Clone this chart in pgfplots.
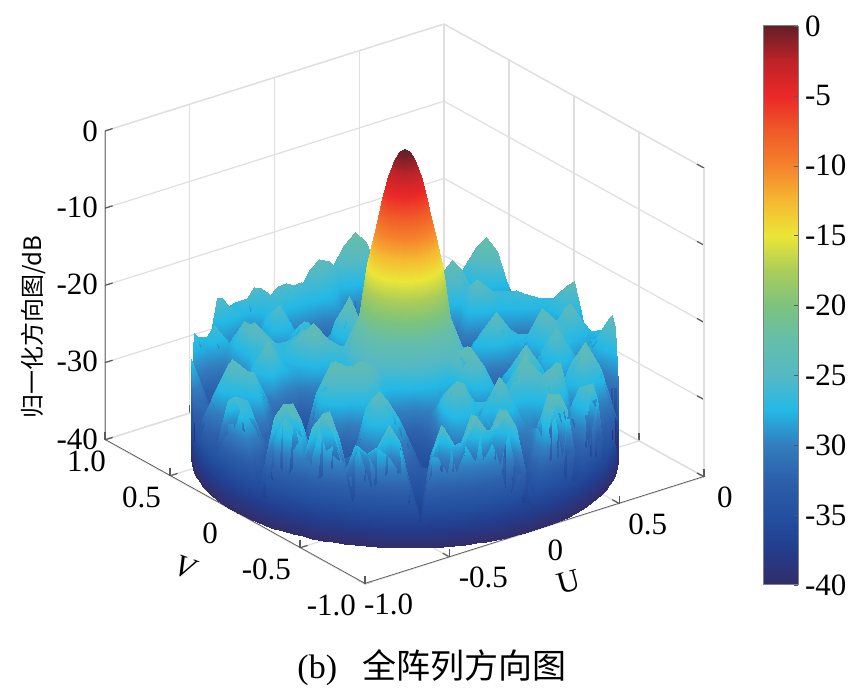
\documentclass[border=0pt]{standalone}
\usepackage{pgfplots}
\pgfplotsset{compat=1.18}
\usepackage{fontspec}
\setmainfont{Liberation Serif}
\newfontfamily\cjk{Noto Sans CJK SC}

\pgfplotsset{
  colormap={pattern}{
    rgb255=(50,45,105) rgb255=(35,60,140) rgb255=(35,80,160) rgb255=(45,95,170)
    rgb255=(50,125,190) rgb255=(35,185,230) rgb255=(85,185,195) rgb255=(100,190,170)
    rgb255=(125,195,125) rgb255=(170,205,90) rgb255=(235,230,55) rgb255=(245,185,50)
    rgb255=(245,130,45) rgb255=(240,90,40) rgb255=(235,40,40) rgb255=(190,35,40)
    rgb255=(100,30,40)
  },
  tick label style={font=\fontsize{15.5}{15.5}\selectfont},
}

\begin{document}
\begin{tikzpicture}
\path[use as bounding box] (0,0) rectangle (431pt,349.5pt);

\begin{axis}[
  at={(202.25pt,274.75pt)}, anchor=origin,
  x={(84.75pt,26.75pt)}, y={(-65pt,36pt)}, z={(0pt,3.86pt)},
  xmin=-1, xmax=1, ymin=-1, ymax=1, zmin=-40, zmax=0,
  point meta min=-40, point meta max=0,
  declare function={rr(\k)=min(1,max(\k*0.025,(\k-5)/14));},
  xtick={-1,-0.5,0,0.5,1}, xticklabels={\hspace{-5pt}-1.0,-0.5,\hspace{2pt}0,0.5,\hspace{2pt}0},
  ytick={-1,-0.5,0,0.5,1}, yticklabels={-1.0,-0.5,0\hspace{4pt}\null,0.5,1.0\hspace{-5pt}\null},
  ztick={-40,-30,-20,-10,0}, zticklabels={-40,-30,-20,-10,0},
  tick pos=left,
  grid=major, major grid style={gray!25, line width=0.6pt},
  axis line style={gray!25, line width=0.6pt},
  tick style={gray!70!black, line width=0.6pt},
  tick align=inside, major tick length=4pt,
  xticklabel style={anchor=north west, xshift=1pt, yshift=-1.5pt},
  yticklabel style={anchor=north east, xshift=-1pt, yshift=-2pt},
  zticklabel style={yshift=-1pt},
]
\draw[gray!70!black, line width=0.7pt] (axis cs:-1,1,0)--(axis cs:-1,1,-40)--(axis cs:-1,-1,-40)--(axis cs:1,-1,-40);
\addplot3[surf, shader=interp, z buffer=sort, mesh/ordering=x varies, mesh/cols=21, mesh/rows=121]
  table[row sep=\\, header=false, z index=0,
    x expr={rr(mod(\coordindex,21))*cos(3*floor(\coordindex/21))},
    y expr={rr(mod(\coordindex,21))*sin(3*floor(\coordindex/21))}] {
0\\-.4\\-1.5\\-3.5\\-6\\-9\\-12\\-15\\-22\\-27\\-30\\-27.5\\-26.5\\-29\\-33\\-34\\-36\\-33\\-26\\-24\\-40\\
0\\-.4\\-1.5\\-3.5\\-6\\-9\\-12\\-15\\-22\\-27\\-30\\-28\\-28\\-31\\-34\\-34\\-34\\-30\\-26\\-25\\-40\\
0\\-.4\\-1.5\\-3.5\\-6\\-9\\-12\\-15\\-22\\-27\\-31\\-29\\-30\\-33\\-36\\-35\\-33\\-29\\-27\\-27\\-40\\
0\\-.4\\-1.5\\-3.5\\-6\\-9\\-12\\-15\\-22\\-27\\-32\\-31\\-32\\-34\\-35\\-33\\-30\\-27\\-27\\-29\\-40\\
0\\-.4\\-1.5\\-3.5\\-6\\-9\\-12\\-15\\-22\\-28\\-33\\-34\\-35\\-36\\-34\\-31\\-28\\-26\\-28\\-31\\-40\\
0\\-.4\\-1.5\\-3.5\\-6\\-9\\-12\\-15\\-22\\-28\\-33\\-35\\-36\\-35\\-32\\-29\\-27\\-26\\-28\\-32\\-40\\
0\\-.4\\-1.5\\-3.5\\-6\\-9\\-12\\-15\\-22\\-28\\-34\\-36\\-37\\-35\\-30\\-27\\-27\\-26.5\\-29\\-33\\-40\\
0\\-.4\\-1.5\\-3.5\\-6\\-9\\-12\\-15\\-22\\-28\\-34\\-36\\-36\\-33\\-28\\-25\\-26\\-27\\-30\\-30\\-40\\
0\\-.4\\-1.5\\-3.5\\-6\\-9\\-12\\-15\\-22\\-27\\-33\\-35\\-35\\-31\\-27\\-24\\-26\\-29\\-29\\-27\\-40\\
0\\-.4\\-1.5\\-3.5\\-6\\-9\\-12\\-15\\-22\\-27\\-33\\-35\\-35\\-32\\-28\\-25\\-25.5\\-29\\-28\\-23.5\\-40\\
0\\-.4\\-1.5\\-3.5\\-6\\-9\\-12\\-15\\-22\\-27\\-32\\-34\\-35\\-33\\-30\\-27\\-26\\-30\\-27\\-22\\-40\\
0\\-.4\\-1.5\\-3.5\\-6\\-9\\-12\\-15\\-22\\-27\\-32\\-33\\-35\\-33\\-30\\-26\\-24\\-27\\-27\\-23.5\\-40\\
0\\-.4\\-1.5\\-3.5\\-6\\-9\\-12\\-15\\-22\\-27\\-31\\-33\\-35\\-34\\-31\\-26\\-23\\-26\\-28\\-26\\-40\\
0\\-.4\\-1.5\\-3.5\\-6\\-9\\-12\\-15\\-22\\-27\\-31\\-32\\-35\\-35\\-32\\-27\\-24.5\\-27\\-30\\-29\\-40\\
0\\-.4\\-1.5\\-3.5\\-6\\-9\\-12\\-15\\-22\\-27\\-31\\-32\\-35\\-36\\-34\\-30\\-27\\-30\\-33\\-33\\-40\\
0\\-.4\\-1.5\\-3.5\\-6\\-9\\-12\\-15\\-22\\-27\\-31\\-31\\-34\\-37\\-36\\-33\\-30\\-32\\-35\\-36\\-40\\
0\\-.4\\-1.5\\-3.5\\-6\\-9\\-12\\-15\\-22\\-27\\-31\\-30\\-33\\-37\\-37\\-35\\-32\\-34\\-36\\-37\\-40\\
0\\-.4\\-1.5\\-3.5\\-6\\-9\\-12\\-15\\-22\\-27\\-30\\-29\\-32\\-36\\-38\\-36\\-34\\-35\\-34\\-35\\-40\\
0\\-.4\\-1.5\\-3.5\\-6\\-9\\-12\\-15\\-22\\-27\\-30\\-28\\-31\\-35\\-38\\-37\\-36\\-35\\-31\\-33\\-40\\
0\\-.4\\-1.5\\-3.5\\-6\\-9\\-12\\-15\\-22\\-26.5\\-29.5\\-27.5\\-30.5\\-34.5\\-37.5\\-37.5\\-36\\-34\\-29\\-29\\-40\\
0\\-.4\\-1.5\\-3.5\\-6\\-9\\-12\\-15\\-22\\-26\\-29\\-27\\-30\\-34\\-37\\-38\\-36\\-33\\-28\\-27\\-40\\
0\\-.4\\-1.5\\-3.5\\-6\\-9\\-12\\-15\\-22\\-26\\-29\\-27.5\\-30.5\\-34\\-36.5\\-37\\-35\\-31\\-26\\-23.5\\-40\\
0\\-.4\\-1.5\\-3.5\\-6\\-9\\-12\\-15\\-22\\-26\\-29\\-28\\-31\\-34\\-36\\-36\\-33\\-30\\-25\\-22\\-40\\
0\\-.4\\-1.5\\-3.5\\-6\\-9\\-12\\-15\\-22\\-26.5\\-30\\-29\\-32\\-35\\-36\\-35\\-31\\-29\\-25\\-23.5\\-40\\
0\\-.4\\-1.5\\-3.5\\-6\\-9\\-12\\-15\\-22\\-27\\-31\\-30\\-33\\-36\\-36\\-33\\-30\\-29\\-26\\-26\\-40\\
0\\-.4\\-1.5\\-3.5\\-6\\-9\\-12\\-15\\-22\\-27\\-30.5\\-29.5\\-33\\-36\\-35.5\\-32\\-29\\-27\\-24.5\\-25.5\\-40\\
0\\-.4\\-1.5\\-3.5\\-6\\-9\\-12\\-15\\-22\\-27\\-30\\-29\\-33\\-36\\-35\\-31\\-28\\-26\\-24\\-26\\-40\\
0\\-.4\\-1.5\\-3.5\\-6\\-9\\-12\\-15\\-22\\-27\\-29\\-28\\-32\\-35.5\\-35.5\\-32\\-28\\-25.5\\-25\\-29\\-40\\
0\\-.4\\-1.5\\-3.5\\-6\\-9\\-12\\-15\\-22\\-27\\-28\\-27\\-31\\-35\\-36\\-33\\-28\\-26\\-27\\-32\\-40\\
0\\-.4\\-1.5\\-3.5\\-6\\-9\\-12\\-15\\-22\\-26.5\\-26.5\\-24.8\\-28\\-33\\-36\\-33\\-28\\-25.5\\-27.5\\-34\\-40\\
0\\-.4\\-1.5\\-3.5\\-6\\-9\\-12\\-15\\-22\\-26\\-25\\-23\\-26\\-32\\-36\\-33\\-28\\-25.5\\-28\\-35\\-40\\
0\\-.4\\-1.5\\-3.5\\-6\\-9\\-12\\-15\\-22\\-26\\-25\\-23.8\\-26.5\\-31\\-34.5\\-33\\-28\\-25\\-27.5\\-33\\-40\\
0\\-.4\\-1.5\\-3.5\\-6\\-9\\-12\\-15\\-22\\-26\\-26\\-25\\-28\\-30\\-33\\-33\\-29\\-25\\-27\\-30\\-40\\
0\\-.4\\-1.5\\-3.5\\-6\\-9\\-12\\-15\\-22\\-26.5\\-27.5\\-27\\-29\\-29\\-31\\-30\\-28\\-26\\-25.5\\-29\\-40\\
0\\-.4\\-1.5\\-3.5\\-6\\-9\\-12\\-15\\-22\\-27\\-29\\-29\\-30\\-28\\-30\\-28\\-27\\-27\\-25\\-28\\-40\\
0\\-.4\\-1.5\\-3.5\\-6\\-9\\-12\\-15\\-22\\-27\\-30\\-29.5\\-29\\-26.5\\-28.5\\-26\\-27\\-29\\-26\\-27\\-40\\
0\\-.4\\-1.5\\-3.5\\-6\\-9\\-12\\-15\\-22\\-27\\-31\\-30\\-28\\-26\\-28\\-25\\-27\\-31\\-27\\-27\\-40\\
0\\-.4\\-1.5\\-3.5\\-6\\-9\\-12\\-15\\-22\\-27\\-31.5\\-31\\-29\\-26.5\\-28.5\\-26\\-28.5\\-32\\-27\\-25.5\\-40\\
0\\-.4\\-1.5\\-3.5\\-6\\-9\\-12\\-15\\-22\\-27\\-32\\-32\\-30\\-28\\-30\\-28\\-30\\-33\\-28\\-25\\-40\\
0\\-.4\\-1.5\\-3.5\\-6\\-9\\-12\\-15\\-22\\-27\\-31.5\\-30.5\\-28\\-28\\-31\\-29.5\\-29\\-31\\-28.5\\-28\\-40\\
0\\-.4\\-1.5\\-3.5\\-6\\-9\\-12\\-15\\-22\\-27\\-31\\-29\\-26.6\\-29\\-33\\-32\\-28\\-31\\-32\\-34\\-40\\
0\\-.4\\-1.5\\-3.5\\-6\\-9\\-12\\-15\\-22\\-27\\-30.5\\-28\\-25.5\\-28\\-31\\-29\\-26\\-28.5\\-29.5\\-33\\-40\\
0\\-.4\\-1.5\\-3.5\\-6\\-9\\-12\\-15\\-22\\-27\\-30\\-27\\-25\\-27\\-29\\-27\\-25\\-28\\-26\\-29\\-40\\
0\\-.4\\-1.5\\-3.5\\-6\\-9\\-12\\-15\\-22\\-26.5\\-28.5\\-25.5\\-25.3\\-26.5\\-27\\-25\\-25.5\\-29\\-27\\-27\\-40\\
0\\-.4\\-1.5\\-3.5\\-6\\-9\\-12\\-15\\-22\\-26\\-27\\-24.5\\-26\\-27\\-26\\-24\\-27\\-31\\-29\\-26\\-40\\
0\\-.4\\-1.5\\-3.5\\-6\\-9\\-12\\-15\\-22\\-26\\-26\\-23.5\\-25\\-27\\-25.3\\-25\\-29\\-32.5\\-31\\-27.5\\-40\\
0\\-.4\\-1.5\\-3.5\\-6\\-9\\-12\\-15\\-22\\-26\\-25\\-23\\-25\\-27.5\\-25\\-27\\-31\\-34\\-33\\-30\\-40\\
0\\-.4\\-1.5\\-3.5\\-6\\-9\\-12\\-15\\-22\\-26\\-25.3\\-23.5\\-26\\-27.5\\-25.3\\-27.5\\-32\\-35\\-33\\-28\\-40\\
0\\-.4\\-1.5\\-3.5\\-6\\-9\\-12\\-15\\-22\\-26\\-26\\-24.5\\-27\\-28\\-26\\-28\\-33\\-36\\-32\\-27\\-40\\
0\\-.4\\-1.5\\-3.5\\-6\\-9\\-12\\-15\\-22\\-26.5\\-27\\-26\\-28\\-27.5\\-24.8\\-27.5\\-33\\-35\\-32\\-28.5\\-40\\
0\\-.4\\-1.5\\-3.5\\-6\\-9\\-12\\-15\\-22\\-27\\-28\\-27.5\\-29\\-27\\-24\\-27\\-32\\-33\\-32\\-31\\-40\\
0\\-.4\\-1.5\\-3.5\\-6\\-9\\-12\\-15\\-22\\-27\\-28.5\\-28.5\\-30.5\\-28\\-25\\-28\\-30\\-30\\-31.5\\-33\\-40\\
0\\-.4\\-1.5\\-3.5\\-6\\-9\\-12\\-15\\-22\\-27\\-29\\-30\\-32\\-30\\-26.5\\-29\\-29\\-27.5\\-31\\-35\\-40\\
0\\-.4\\-1.5\\-3.5\\-6\\-9\\-12\\-15\\-22\\-27\\-29.5\\-31\\-33\\-31.5\\-28.5\\-29.5\\-27.5\\-25\\-28.5\\-33\\-40\\
0\\-.4\\-1.5\\-3.5\\-6\\-9\\-12\\-15\\-22\\-27\\-30\\-32\\-34\\-33\\-31\\-30\\-27\\-24\\-27\\-31\\-40\\
0\\-.4\\-1.5\\-3.5\\-6\\-9\\-12\\-15\\-22\\-27\\-30\\-32\\-34.5\\-34\\-32.5\\-29\\-25.5\\-25\\-28\\-33\\-40\\
0\\-.4\\-1.5\\-3.5\\-6\\-9\\-12\\-15\\-22\\-27\\-30\\-32\\-35\\-35\\-34\\-29\\-25\\-27.5\\-30\\-35\\-40\\
0\\-.4\\-1.5\\-3.5\\-6\\-9\\-12\\-15\\-22\\-27\\-29.5\\-31.5\\-34.5\\-35.5\\-35.5\\-30.5\\-26\\-29\\-31\\-33\\-40\\
0\\-.4\\-1.5\\-3.5\\-6\\-9\\-12\\-15\\-22\\-27\\-29\\-31\\-34\\-36\\-37\\-33\\-28\\-31\\-30\\-29.5\\-40\\
0\\-.4\\-1.5\\-3.5\\-6\\-9\\-12\\-15\\-22\\-27\\-28.5\\-30\\-32.5\\-35.5\\-36.5\\-34.5\\-31\\-32\\-27\\-26\\-40\\
0\\-.4\\-1.5\\-3.5\\-6\\-9\\-12\\-15\\-22\\-27\\-28\\-29\\-31\\-35\\-36\\-36\\-34\\-31\\-26\\-25\\-40\\
0\\-.4\\-1.5\\-3.5\\-6\\-9\\-12\\-15\\-22\\-26.5\\-27.5\\-27.5\\-27.5\\-31\\-34.5\\-35.5\\-33\\-32\\-28\\-27\\-40\\
0\\-.4\\-1.5\\-3.5\\-6\\-9\\-12\\-15\\-22\\-26\\-27\\-26.5\\-24.6\\-27\\-33\\-35\\-33\\-36\\-33\\-32\\-40\\
0\\-.4\\-1.5\\-3.5\\-6\\-9\\-12\\-15\\-22\\-26\\-27\\-25.5\\-23.4\\-25.8\\-32\\-33.5\\-34\\-37\\-37\\-37\\-40\\
0\\-.4\\-1.5\\-3.5\\-6\\-9\\-12\\-15\\-22\\-26\\-27\\-25.5\\-23\\-25.5\\-31\\-32\\-32\\-35\\-32\\-31\\-40\\
0\\-.4\\-1.5\\-3.5\\-6\\-9\\-12\\-15\\-22\\-26\\-26\\-24.3\\-23.4\\-25.8\\-32\\-32.5\\-32\\-31\\-26\\-25.5\\-40\\
0\\-.4\\-1.5\\-3.5\\-6\\-9\\-12\\-15\\-22\\-26\\-25\\-24\\-24.6\\-27\\-33\\-33\\-33\\-29\\-24\\-23.5\\-40\\
0\\-.4\\-1.5\\-3.5\\-6\\-9\\-12\\-15\\-22\\-25.5\\-24.3\\-23.3\\-24.6\\-28.5\\-34\\-32.5\\-33\\-30\\-26\\-25\\-40\\
0\\-.4\\-1.5\\-3.5\\-6\\-9\\-12\\-15\\-22\\-25\\-24\\-23\\-25.5\\-31\\-35\\-32\\-34\\-34\\-31\\-30\\-40\\
0\\-.4\\-1.5\\-3.5\\-6\\-9\\-12\\-15\\-22\\-25.5\\-24.3\\-23.3\\-26\\-31.5\\-34.5\\-33\\-33\\-30\\-26\\-25.5\\-40\\
0\\-.4\\-1.5\\-3.5\\-6\\-9\\-12\\-15\\-22\\-26\\-25\\-24.2\\-27\\-32\\-34\\-34\\-32\\-29\\-24\\-23.5\\-40\\
0\\-.4\\-1.5\\-3.5\\-6\\-9\\-12\\-15\\-22\\-26.5\\-26.5\\-25.8\\-28.5\\-30.5\\-30\\-31.5\\-33\\-31\\-27\\-26\\-40\\
0\\-.4\\-1.5\\-3.5\\-6\\-9\\-12\\-15\\-22\\-27\\-28\\-27.5\\-30\\-29\\-26.5\\-29\\-34\\-36\\-32\\-31\\-40\\
0\\-.4\\-1.5\\-3.5\\-6\\-9\\-12\\-15\\-22\\-27\\-29\\-30\\-29.5\\-27.5\\-25\\-27.5\\-33\\-33\\-28\\-27\\-40\\
0\\-.4\\-1.5\\-3.5\\-6\\-9\\-12\\-15\\-22\\-27\\-30\\-32\\-29\\-26.5\\-24\\-27\\-32\\-34\\-29\\-28\\-40\\
0\\-.4\\-1.5\\-3.5\\-6\\-9\\-12\\-15\\-22\\-27\\-30.5\\-33\\-30\\-27.5\\-25\\-27.5\\-32\\-33\\-28\\-27\\-40\\
0\\-.4\\-1.5\\-3.5\\-6\\-9\\-12\\-15\\-22\\-27\\-31\\-34\\-31\\-29\\-26.5\\-29\\-32\\-30\\-25\\-24.5\\-40\\
0\\-.4\\-1.5\\-3.5\\-6\\-9\\-12\\-15\\-22\\-27\\-31.5\\-34.5\\-32.5\\-30.5\\-28\\-30.5\\-33\\-32\\-27\\-26\\-40\\
0\\-.4\\-1.5\\-3.5\\-6\\-9\\-12\\-15\\-22\\-27\\-32\\-35\\-34\\-32\\-30\\-32\\-34\\-36\\-33\\-32\\-40\\
0\\-.4\\-1.5\\-3.5\\-6\\-9\\-12\\-15\\-22\\-27\\-32\\-35\\-35\\-33.5\\-32\\-32.5\\-35\\-38\\-37\\-37\\-40\\
0\\-.4\\-1.5\\-3.5\\-6\\-9\\-12\\-15\\-22\\-27\\-32\\-35\\-36\\-35\\-34\\-33\\-33\\-33\\-29\\-28\\-40\\
0\\-.4\\-1.5\\-3.5\\-6\\-9\\-12\\-15\\-22\\-27\\-31.5\\-34\\-35.5\\-35\\-35\\-33\\-32\\-30\\-25\\-24.5\\-40\\
0\\-.4\\-1.5\\-3.5\\-6\\-9\\-12\\-15\\-22\\-27\\-31\\-33\\-35\\-35\\-36\\-33\\-33\\-32\\-28\\-27\\-40\\
0\\-.4\\-1.5\\-3.5\\-6\\-9\\-12\\-15\\-22\\-27\\-30.5\\-31\\-31\\-30\\-33\\-32\\-32\\-32\\-27.5\\-26.5\\-40\\
0\\-.4\\-1.5\\-3.5\\-6\\-9\\-12\\-15\\-22\\-27\\-30\\-29\\-27\\-25.8\\-28\\-31\\-31\\-29\\-24\\-23.5\\-40\\
0\\-.4\\-1.5\\-3.5\\-6\\-9\\-12\\-15\\-22\\-27\\-29.5\\-28\\-26\\-24.4\\-26.5\\-30\\-31\\-31\\-26.5\\-25.5\\-40\\
0\\-.4\\-1.5\\-3.5\\-6\\-9\\-12\\-15\\-22\\-27\\-29\\-27\\-26.5\\-24\\-26.5\\-30\\-31\\-31\\-26.5\\-25.5\\-40\\
0\\-.4\\-1.5\\-3.5\\-6\\-9\\-12\\-15\\-22\\-27\\-29.5\\-28\\-27\\-24.4\\-26.5\\-30\\-31\\-29\\-24\\-23.5\\-40\\
0\\-.4\\-1.5\\-3.5\\-6\\-9\\-12\\-15\\-22\\-27\\-30\\-29\\-28\\-25.8\\-28\\-31\\-32\\-32\\-27\\-26\\-40\\
0\\-.4\\-1.5\\-3.5\\-6\\-9\\-12\\-15\\-22\\-27\\-30.5\\-30.5\\-29.5\\-27\\-26.5\\-29.5\\-33\\-37\\-33\\-32\\-40\\
0\\-.4\\-1.5\\-3.5\\-6\\-9\\-12\\-15\\-22\\-27\\-31\\-32\\-31\\-29\\-26.5\\-29\\-34\\-38\\-37\\-37\\-40\\
0\\-.4\\-1.5\\-3.5\\-6\\-9\\-12\\-15\\-22\\-27\\-30.5\\-32.5\\-32\\-28\\-25\\-27.5\\-33\\-35\\-31\\-30\\-40\\
0\\-.4\\-1.5\\-3.5\\-6\\-9\\-12\\-15\\-22\\-27\\-30\\-33\\-33\\-27\\-24\\-26.5\\-31\\-31\\-26.5\\-25.5\\-40\\
0\\-.4\\-1.5\\-3.5\\-6\\-9\\-12\\-15\\-22\\-26\\-27\\-29.5\\-32\\-27.5\\-25\\-27.5\\-30\\-29\\-24\\-23.5\\-40\\
0\\-.4\\-1.5\\-3.5\\-6\\-9\\-12\\-15\\-22\\-25\\-24\\-26\\-31\\-29\\-26.5\\-29\\-30\\-31\\-27\\-26\\-40\\
0\\-.4\\-1.5\\-3.5\\-6\\-9\\-12\\-15\\-22\\-24.5\\-23.3\\-25.3\\-30\\-28.5\\-25.5\\-28\\-30\\-34\\-33\\-32\\-40\\
0\\-.4\\-1.5\\-3.5\\-6\\-9\\-12\\-15\\-22\\-24.5\\-23\\-25\\-29\\-28\\-25\\-27\\-28\\-34\\-37\\-36\\-40\\
0\\-.4\\-1.5\\-3.5\\-6\\-9\\-12\\-15\\-22\\-24.5\\-23.3\\-25.3\\-29\\-27\\-24\\-26\\-25.5\\-30\\-29\\-28\\-40\\
0\\-.4\\-1.5\\-3.5\\-6\\-9\\-12\\-15\\-22\\-25\\-24\\-26\\-29\\-26\\-23\\-25.5\\-24\\-30\\-25.5\\-24.5\\-40\\
0\\-.4\\-1.5\\-3.5\\-6\\-9\\-12\\-15\\-22\\-25.5\\-25\\-27\\-30\\-27\\-24\\-25.5\\-23.5\\-30\\-28\\-27\\-40\\
0\\-.4\\-1.5\\-3.5\\-6\\-9\\-12\\-15\\-22\\-26\\-26\\-28\\-31\\-28\\-25.5\\-26\\-24\\-32\\-34\\-33\\-40\\
0\\-.4\\-1.5\\-3.5\\-6\\-9\\-12\\-15\\-22\\-26.5\\-27\\-29.5\\-30\\-26.5\\-26.5\\-28\\-26\\-33\\-36\\-36\\-40\\
0\\-.4\\-1.5\\-3.5\\-6\\-9\\-12\\-15\\-22\\-27\\-28\\-31\\-29\\-25.8\\-28\\-30\\-28\\-26.5\\-30\\-34\\-40\\
0\\-.4\\-1.5\\-3.5\\-6\\-9\\-12\\-15\\-22\\-27\\-28.5\\-30\\-28\\-24.4\\-27\\-30.5\\-27\\-24\\-28\\-33\\-40\\
0\\-.4\\-1.5\\-3.5\\-6\\-9\\-12\\-15\\-22\\-27\\-29\\-29.5\\-27\\-24\\-26.5\\-31\\-26\\-23\\-26\\-32\\-40\\
0\\-.4\\-1.5\\-3.5\\-6\\-9\\-12\\-15\\-22\\-27\\-29.5\\-30\\-28\\-24.4\\-27\\-31.5\\-27.5\\-24\\-28\\-33\\-40\\
0\\-.4\\-1.5\\-3.5\\-6\\-9\\-12\\-15\\-22\\-27\\-30\\-31\\-29\\-25.8\\-28\\-32\\-29\\-26.5\\-30\\-34\\-40\\
0\\-.4\\-1.5\\-3.5\\-6\\-9\\-12\\-15\\-22\\-27\\-30.5\\-32\\-30.5\\-28\\-28\\-29\\-29\\-29.5\\-31.5\\-32.5\\-40\\
0\\-.4\\-1.5\\-3.5\\-6\\-9\\-12\\-15\\-22\\-27\\-31\\-33\\-32\\-31\\-29\\-26.5\\-29\\-33\\-33\\-31\\-40\\
0\\-.4\\-1.5\\-3.5\\-6\\-9\\-12\\-15\\-22\\-27\\-31\\-33.5\\-33\\-31.5\\-28\\-25\\-28\\-32\\-31.5\\-28.5\\-40\\
0\\-.4\\-1.5\\-3.5\\-6\\-9\\-12\\-15\\-22\\-27\\-31\\-34\\-34\\-32\\-27\\-24\\-27\\-31\\-30\\-27\\-40\\
0\\-.4\\-1.5\\-3.5\\-6\\-9\\-12\\-15\\-22\\-27\\-31\\-33.5\\-34\\-32.5\\-28.5\\-25\\-27.5\\-31\\-28\\-25\\-40\\
0\\-.4\\-1.5\\-3.5\\-6\\-9\\-12\\-15\\-22\\-27\\-31\\-33\\-34\\-33\\-30\\-27\\-29\\-31\\-27\\-24\\-40\\
0\\-.4\\-1.5\\-3.5\\-6\\-9\\-12\\-15\\-22\\-27\\-30.5\\-32\\-33\\-32.5\\-29\\-25.8\\-27\\-29\\-27.5\\-25\\-40\\
0\\-.4\\-1.5\\-3.5\\-6\\-9\\-12\\-15\\-22\\-27\\-30\\-31\\-32\\-32\\-28\\-25\\-26\\-27.5\\-29\\-27\\-40\\
0\\-.4\\-1.5\\-3.5\\-6\\-9\\-12\\-15\\-22\\-27\\-29.5\\-29.5\\-28.5\\-30\\-27.5\\-24.5\\-26\\-25.5\\-27.5\\-29.5\\-40\\
0\\-.4\\-1.5\\-3.5\\-6\\-9\\-12\\-15\\-22\\-27\\-29\\-28\\-25.6\\-28\\-27\\-24\\-26\\-24\\-27\\-32\\-40\\
0\\-.4\\-1.5\\-3.5\\-6\\-9\\-12\\-15\\-22\\-27\\-28.5\\-27\\-24.4\\-27\\-28\\-25\\-27.5\\-25\\-28\\-32\\-40\\
0\\-.4\\-1.5\\-3.5\\-6\\-9\\-12\\-15\\-22\\-27\\-28\\-26.5\\-24\\-26.5\\-30\\-27\\-30\\-27.5\\-30\\-31\\-40\\
0\\-.4\\-1.5\\-3.5\\-6\\-9\\-12\\-15\\-22\\-27\\-29\\-26.5\\-25\\-27.5\\-31.5\\-30.5\\-33\\-30\\-28\\-27.5\\-40\\
0\\-.4\\-1.5\\-3.5\\-6\\-9\\-12\\-15\\-22\\-27\\-30\\-27.5\\-26.5\\-29\\-33\\-34\\-36\\-33\\-26\\-24\\-40\\
};
\end{axis}

% colour scale
\begin{axis}[
  at={(381.5pt,57pt)}, anchor=south west, scale only axis,
  width=17.5pt, height=279.5pt,
  view={0}{90},
  xmin=0, xmax=1, ymin=-40, ymax=0,
  point meta min=-40, point meta max=0,
  xtick=\empty,
  ytick={-40,-35,-30,-25,-20,-15,-10,-5,0},
  yticklabels={-40,-35,-30,-25,-20,-15,-10,-5,0},
  ytick pos=right, yticklabel pos=right,
  tick align=inside, major tick length=2pt,
  axis line style={gray, line width=0.5pt},
  tick style={gray!70!black},
]
\addplot3[surf, shader=interp, mesh/rows=17, mesh/cols=2, mesh/ordering=x varies, point meta=y]
  coordinates {
  (0,-40,0)(1,-40,0) (0,-37.5,0)(1,-37.5,0) (0,-35,0)(1,-35,0) (0,-32.5,0)(1,-32.5,0)
  (0,-30,0)(1,-30,0) (0,-27.5,0)(1,-27.5,0) (0,-25,0)(1,-25,0) (0,-22.5,0)(1,-22.5,0)
  (0,-20,0)(1,-20,0) (0,-17.5,0)(1,-17.5,0) (0,-15,0)(1,-15,0) (0,-12.5,0)(1,-12.5,0)
  (0,-10,0)(1,-10,0) (0,-7.5,0)(1,-7.5,0) (0,-5,0)(1,-5,0) (0,-2.5,0)(1,-2.5,0)
  (0,0,0)(1,0,0)
  };
\end{axis}

\node[font=\cjk\fontsize{12}{12}\selectfont, rotate=90] at (16.5pt,186pt) {归一化方向图/dB};
\node[font=\fontsize{17}{17}\selectfont] at (216pt,15.5pt) {(b)\ \ \ {\cjk 全阵列方向图}};
\node[font=\fontsize{15.5}{15.5}\selectfont, rotate=15] at (284.5pt,58.5pt) {U};
\node[font=\itshape\fontsize{15.5}{15.5}\selectfont, rotate=-20] at (92.5pt,66pt) {V};
\end{tikzpicture}
\end{document}
